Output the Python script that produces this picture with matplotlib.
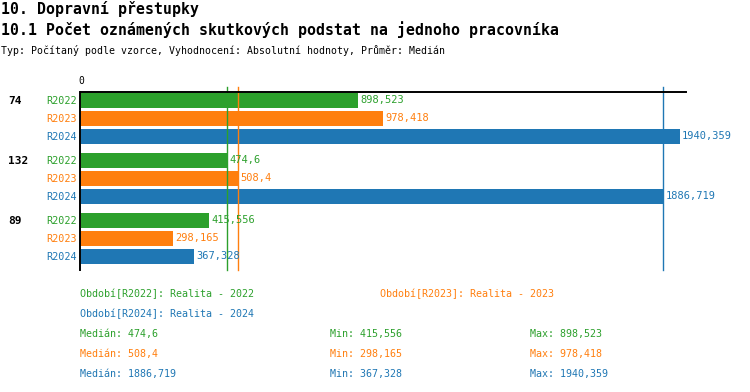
import matplotlib
matplotlib.use("Agg")
import matplotlib.pyplot as plt

plt.rcParams['font.family'] = ['DejaVu Sans Mono']

groups = ["74", "132", "89"]
series = ["R2022", "R2023", "R2024"]
colors = ["#2ca02c", "#ff7f0e", "#1f77b4"]
values = {
    "R2022": [898.523, 474.6, 415.556],
    "R2023": [978.418, 508.4, 298.165],
    "R2024": [1940.359, 1886.719, 367.328],
}
medians = [474.6, 508.4, 1886.719]
mins = [415.556, 298.165, 367.328]
maxs = [898.523, 978.418, 1940.359]
legend_names = ["Období[R2022]: Realita - 2022",
                "Období[R2023]: Realita - 2023",
                "Období[R2024]: Realita - 2024"]


def fmt(v):
    s = f"{v:.3f}".rstrip("0").rstrip(".")
    return s.replace(".", ",")


W, H = 750, 392
fig = plt.figure(figsize=(W / 100, H / 100), dpi=100)

# axes box in pixel terms
x0, x1 = 81, 686
y0, y1 = 92, 270
ax = fig.add_axes([x0 / W, 1 - y1 / H, (x1 - x0) / W, (y1 - y0) / H])
ax.set_xlim(0, (x1 - x0) / 0.3085)
ax.set_ylim(y1 - y0, 0)

for g in range(len(groups)):
    for s, name in enumerate(series):
        yc = 8.5 + 60 * g + 18 * s
        v = values[name][g]
        ax.barh(yc, v, height=15.5, color=colors[s], linewidth=0)
        ax.text(v + 8, yc, fmt(v), color=colors[s], fontsize=7.5,
                va="center", ha="left")
        ax.text(-0.006, yc, name, color=colors[s], fontsize=7.3,
                va="center", ha="right", transform=ax.get_yaxis_transform())
    ax.text(-0.12, 8.5 + 60 * g, groups[g], fontsize=8, fontweight="bold",
            va="center", ha="left", transform=ax.get_yaxis_transform())

for m, c in zip(medians, colors):
    ax.axvline(m, ymin=0, ymax=1.028, color=c, linewidth=1, clip_on=False)

for side in ["right", "bottom"]:
    ax.spines[side].set_visible(False)
ax.spines["top"].set_linewidth(1.4)
ax.spines["left"].set_linewidth(1.4)
ax.spines["left"].set_position(("outward", 1))
ax.set_yticks([])
ax.xaxis.tick_top()
ax.set_xticks([0])
ax.set_xticklabels(["0"], fontsize=7)
ax.tick_params(axis="x", length=0, pad=4)

# titles
fig.text(1 / W, 1 - 9 / H, "10. Dopravní přestupky", fontsize=10.7,
         fontweight="bold", va="center", ha="left")
fig.text(1 / W, 1 - 30 / H,
         "10.1 Počet oznámených skutkových podstat na jednoho pracovníka",
         fontsize=10.7, fontweight="bold", va="center", ha="left")
fig.text(1 / W, 1 - 50 / H,
         "Typ: Počítaný podle vzorce, Vyhodnocení: Absolutní hodnoty, Průměr: Medián",
         fontsize=7.1, va="center", ha="left")

# legend
fig.text(80 / W, 1 - 294 / H, legend_names[0], color=colors[0], fontsize=7.2, va="center")
fig.text(380 / W, 1 - 294 / H, legend_names[1], color=colors[1], fontsize=7.2, va="center")
fig.text(80 / W, 1 - 314 / H, legend_names[2], color=colors[2], fontsize=7.2, va="center")

for i, c in enumerate(colors):
    yy = 1 - (334 + 20 * i) / H
    fig.text(80 / W, yy, "Medián: " + fmt(medians[i]), color=c, fontsize=7.2, va="center")
    fig.text(330 / W, yy, "Min: " + fmt(mins[i]), color=c, fontsize=7.2, va="center")
    fig.text(530 / W, yy, "Max: " + fmt(maxs[i]), color=c, fontsize=7.2, va="center")

fig.savefig("out.png", dpi=100)
